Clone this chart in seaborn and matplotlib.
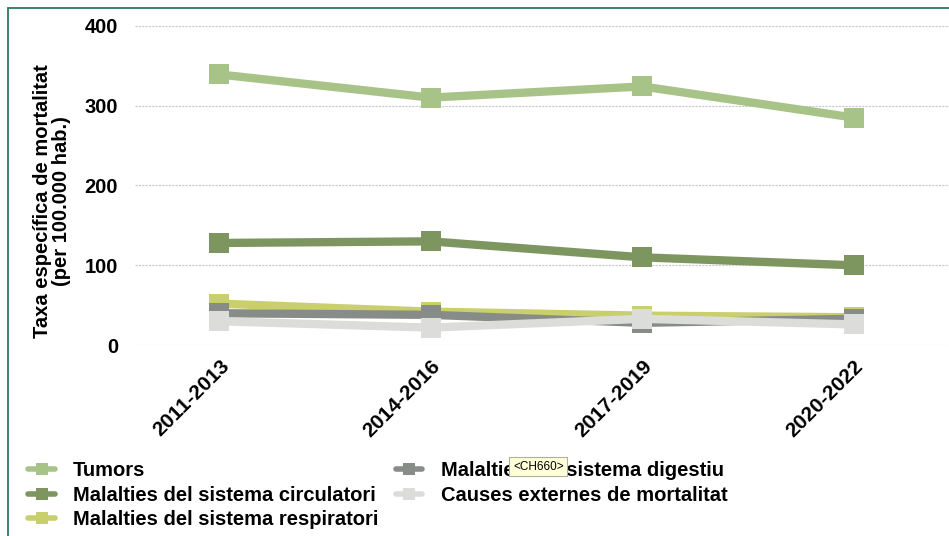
import pandas as pd
import numpy as np
import matplotlib.pyplot as plt
import seaborn as sns
from matplotlib.patches import Rectangle
from matplotlib.lines import Line2D

# ==============================
# DATA
# ==============================
periods = ['2011-2013', '2014-2016', '2017-2019', '2020-2022']
tumors = [339, 310, 324, 285]
circulatori = [128, 130, 110, 100]
respiratori = [52, 42, 37, 35]
digestiu = [40, 38, 28, 33]
externes = [30, 22, 33, 26]

series_names = ['Tumors',
                'Malalties del sistema circulatori',
                'Malalties del sistema respiratori',
                'Malalties del sistema digestiu',
                'Causes externes de mortalitat']
series_values = [tumors, circulatori, respiratori, digestiu, externes]
colors = ['#a8c387', '#7d9660', '#c9cf6c', '#878c88', '#dcdddb']

rows = []
for name, vals in zip(series_names, series_values):
    for i, v in enumerate(vals):
        rows.append({'periode': i, 'causa': name, 'taxa': v})
df = pd.DataFrame(rows)

# ==============================
# PLOT
# ==============================
sns.set_style('white')
plt.rcParams['font.family'] = ['Liberation Sans', 'DejaVu Sans']
plt.rcParams['text.color'] = 'black'
plt.rcParams['xtick.color'] = 'black'
plt.rcParams['ytick.color'] = 'black'
plt.rcParams['axes.labelcolor'] = 'black'

fig = plt.figure(figsize=(9.49, 5.36), dpi=100)
ax = fig.add_axes([0.142, 0.356, 0.858, 0.596])

sns.lineplot(data=df, x='periode', y='taxa', hue='causa', hue_order=series_names,
             palette=colors, style='causa', markers=['s'] * 5, dashes=False,
             linewidth=6, markersize=14, markeredgewidth=0, ax=ax, legend=False)

ax.set_xlim(-0.4, 3.45)
ax.set_ylim(0, 400)
ax.set_yticks([0, 100, 200, 300, 400])
ax.set_xticks(range(len(periods)))
ax.set_xticklabels(periods, rotation=45, ha='right', rotation_mode='anchor',
                   fontsize=15, fontweight='bold')
for lab in ax.get_yticklabels():
    lab.set_fontsize(14.5)
    lab.set_fontweight('bold')
ax.tick_params(axis='y', length=0, pad=12)
ax.tick_params(axis='x', length=0, pad=8)
ax.grid(axis='y', color='#c8c8c8', linestyle=(0, (2, 1)), linewidth=0.8)
ax.set_axisbelow(True)
sns.despine(ax=ax, left=True, bottom=True)
ax.set_xlabel('')
ax.set_ylabel('Taxa específica de mortalitat\n(per 100.000 hab.)', fontsize=14.5,
              fontweight='bold', linespacing=1.0)
ax.yaxis.set_label_coords(-0.078, 0.45)

handles = [Line2D([0], [0], color=c, linewidth=4, marker='s', markersize=9,
                  markeredgewidth=0) for c in colors]
fig.legend(handles, series_names, loc='upper left', bbox_to_anchor=(0.03, 0.139),
           ncol=2, frameon=False, prop={'size': 14.5, 'weight': 'bold'},
           handlelength=1.3, handletextpad=0.9, columnspacing=0.9,
           labelspacing=0.26, borderpad=0, borderaxespad=0)

# tooltip overlay seen in the source screenshot
fig.text(0.5405, 0.129, '<CH660>', fontsize=8.5, ha='left', va='center',
         bbox=dict(boxstyle='square,pad=0.3', facecolor='#ffffd8', edgecolor='#b0b0a0',
                   linewidth=0.8), zorder=10)

# green frame around the panel
fig.patches.append(Rectangle((0.008, -0.05), 1.2, 1.035, transform=fig.transFigure,
                             fill=False, edgecolor='#2d7a5a', linewidth=1.3))

fig.savefig('out.png', dpi=100)
